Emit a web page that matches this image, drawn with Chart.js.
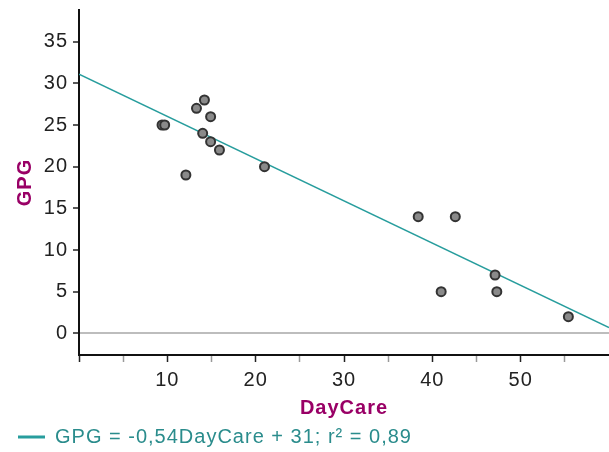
<!DOCTYPE html>
<html>
<head>
<meta charset="utf-8">
<script src="https://cdn.jsdelivr.net/npm/chart.js@4.4.0/dist/chart.umd.min.js"></script>
<style>
    html, body { margin: 0; padding: 0; background: #fff; }
</style>
</head>
<body>
<canvas id="chart" width="609" height="452"></canvas>
<script>
// values
const dayCare = [9.4, 9.7, 14.2, 13.3, 14.9, 14.0, 14.9, 15.9, 21.0, 12.1, 38.4, 42.6, 47.1, 41.0, 47.3, 55.4];
const gpg = [25, 25, 28, 27, 26, 24, 23, 22, 20, 19, 14, 14, 7, 5, 5, 2];
const trendX = [0, 60];
const trendY = [31.1, 0.7];
const xTickLabels = [10, 20, 30, 40, 50];
const yTickLabels = [0, 5, 10, 15, 20, 25, 30, 35];
const legendText = 'GPG = -0,54DayCare + 31; r\u00B2 = 0,89';

const teal = '#279d9d';
const tealText = '#2a8c8c';
const purple = '#990066';

// the original text is drawn a little wider than Arial,
// and the legend strip is kept to a fixed height
const tweaks = {
    id: 'tweaks',
    beforeLayout(chart) {
        chart.ctx.letterSpacing = '1px';
        const legend = chart.legend;
        if (legend && !legend._fixed) {
            const fit = legend.fit;
            legend.fit = function () {
                fit.call(this);
                this.height = 31;
            };
            legend._fixed = true;
        }
    },
    beforeDraw(chart) { chart.ctx.letterSpacing = '1px'; }
};

Chart.defaults.font.family = '"Liberation Sans", Arial, sans-serif';
Chart.defaults.font.size = 20;
Chart.defaults.color = '#222';

new Chart(document.getElementById('chart'), {
    type: 'scatter',
    data: {
        datasets: [{
            label: 'points',
            data: dayCare.map((x, i) => ({ x: x, y: gpg[i] })),
            pointRadius: 4.5,
            pointBorderWidth: 2,
            pointBackgroundColor: '#8a8a8a',
            pointBorderColor: '#333'
        }, {
            type: 'line',
            label: legendText,
            data: trendX.map((x, i) => ({ x: x, y: trendY[i] })),
            borderColor: teal,
            borderWidth: 1.5,
            pointRadius: 0,
            fill: false
        }]
    },
    options: {
        responsive: false,
        animation: false,
        layout: { autoPadding: false, padding: { top: 10, left: 12, right: 0, bottom: 0 } },
        scales: {
            x: {
                type: 'linear',
                min: 0,
                max: 60,
                afterFit(scale) {
                    scale.height = 66;
                    scale.paddingLeft = 0;
                    scale.paddingRight = 0;
                },
                border: { color: '#111', width: 2 },
                grid: {
                    drawOnChartArea: false,
                    tickLength: 7,
                    tickWidth: 1.5,
                    tickColor: c => c.tick.value === 60 ? 'transparent' : (c.tick.value % 10 === 0 ? '#222' : '#9a9a9a')
                },
                ticks: {
                    stepSize: 5,
                    autoSkip: false,
                    maxRotation: 0,
                    padding: 6,
                    callback: v => xTickLabels.includes(v) ? v : ''
                },
                title: {
                    display: true,
                    text: 'DayCare',
                    color: purple,
                    font: { weight: 'bold', size: 20 },
                    padding: { top: 0, bottom: 1 }
                }
            },
            y: {
                min: -2.6,
                max: 38.8,
                afterFit(scale) {
                    scale.width = 67;
                    scale.paddingTop = 0;
                    scale.paddingBottom = 0;
                },
                border: { color: '#111', width: 2 },
                grid: {
                    color: c => c.tick.value === 0 ? '#bdbdbd' : 'transparent',
                    lineWidth: 2,
                    tickLength: 6,
                    tickWidth: 1.5,
                    tickColor: '#222'
                },
                ticks: {
                    stepSize: 5,
                    includeBounds: false,
                    padding: 5,
                    callback: v => yTickLabels.includes(v) ? v : ''
                },
                title: {
                    display: true,
                    text: 'GPG',
                    color: purple,
                    font: { weight: 'bold', size: 20 },
                    padding: { top: 1, bottom: 0 }
                }
            }
        },
        plugins: {
            tooltip: { enabled: false },
            legend: {
                position: 'bottom',
                align: 'start',
                labels: {
                    padding: 6,
                    boxWidth: 27,
                    boxHeight: 3,
                    color: tealText,
                    font: { size: 20 },
                    generateLabels: () => [{
                        text: legendText,
                        fillStyle: teal,
                        strokeStyle: teal,
                        lineWidth: 0,
                        fontColor: tealText,
                        hidden: false,
                        datasetIndex: 1
                    }]
                }
            }
        }
    },
    plugins: [tweaks]
});
</script>
</body>
</html>
